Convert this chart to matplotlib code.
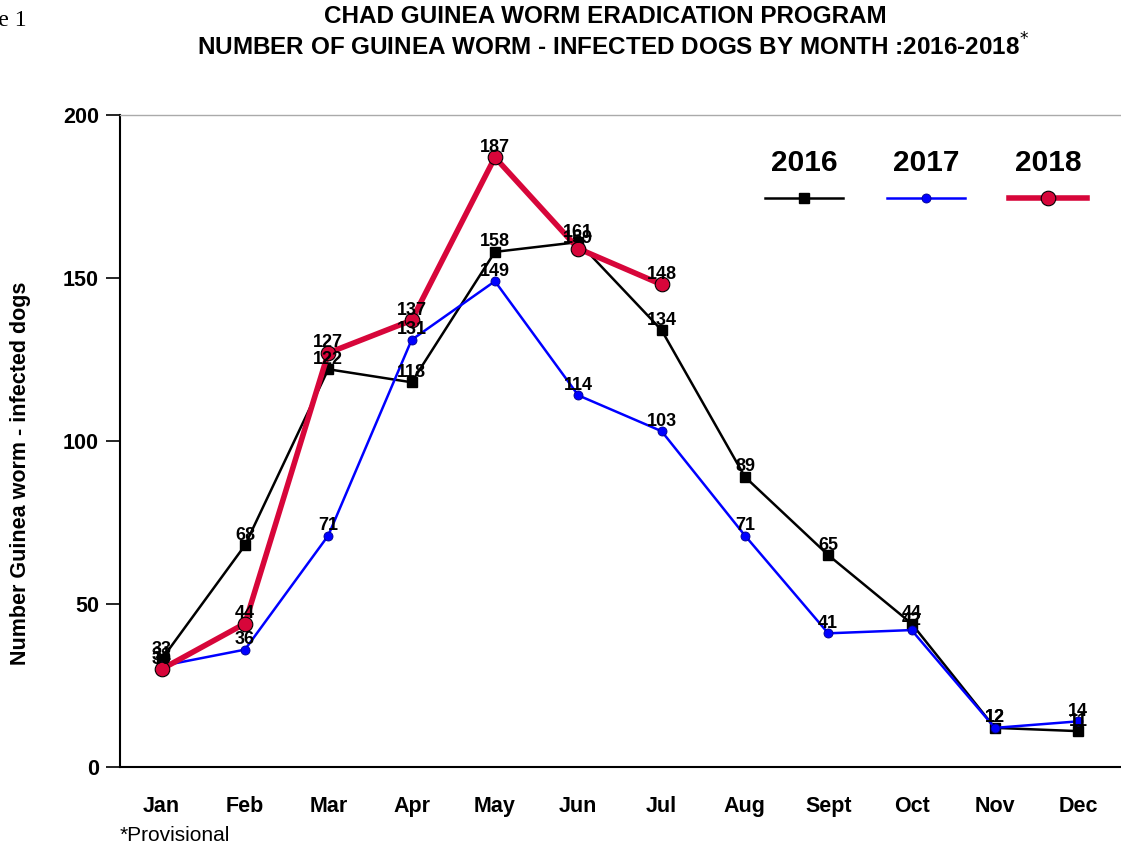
import matplotlib
matplotlib.use("Agg")
import matplotlib.pyplot as plt

months = ["Jan", "Feb", "Mar", "Apr", "May", "Jun", "Jul", "Aug", "Sept", "Oct", "Nov", "Dec"]
dogs_2016 = [33, 68, 122, 118, 158, 161, 134, 89, 65, 44, 12, 11]
dogs_2017 = [31, 36, 71, 131, 149, 114, 103, 71, 41, 42, 12, 14]
dogs_2018 = [30, 44, 127, 137, 187, 159, 148]
years = ["2016", "2017", "2018"]

plt.rcParams['font.family'] = ['Liberation Sans', 'DejaVu Sans']

fig = plt.figure(figsize=(11.21, 8.49), dpi=100)
ax = fig.add_axes([0.107, 0.0966, 0.892, 0.768])

# line / marker styles per year
line_st = {
    "2016": dict(color='black', lw=1.8),
    "2017": dict(color='#0000FF', lw=1.8),
    "2018": dict(color='#D7063A', lw=4),
}
mark_st = {
    "2016": dict(marker='s', ms=6.5, mfc='black', mec='black'),
    "2017": dict(marker='o', ms=6.5, mfc='#0000FF', mec='#00008B', mew=0.6),
    "2018": dict(marker='o', ms=10.5, mfc='#D7063A', mec='black', mew=0.8),
}
zorders = {"2016": 3, "2017": 4, "2018": 5}
series = {"2016": dogs_2016, "2017": dogs_2017, "2018": dogs_2018}

for yr in years:
    vals = series[yr]
    x = list(range(len(vals)))
    ax.plot(x, vals, zorder=zorders[yr], **line_st[yr], **mark_st[yr])
    for xi, v in zip(x, vals):
        ax.annotate(str(v), (xi, v), xytext=(0, 4), textcoords='offset points',
                    ha='center', va='baseline', fontsize=13, fontweight='bold', zorder=6)

ax.set_xlim(-0.5, len(months) - 0.5)
ax.set_ylim(0, 200)
ax.set_yticks([0, 50, 100, 150, 200])
ax.set_xticks(range(len(months)))
ax.set_xticklabels(months)
for lab in ax.get_xticklabels() + ax.get_yticklabels():
    lab.set_fontweight('bold')
    lab.set_fontsize(15.5)
ax.tick_params(axis='x', length=0, pad=21)
ax.tick_params(axis='y', direction='out', length=10, width=1.2, pad=5)

ax.spines['right'].set_visible(False)
ax.spines['top'].set_color('#AAAAAA')
ax.spines['top'].set_linewidth(1)
ax.spines['left'].set_linewidth(1.5)
ax.spines['bottom'].set_linewidth(1.5)

fig.text(0.018, 0.443, "Number Guinea worm - infected dogs", rotation=90, ha='center', va='center',
         fontsize=15.5, fontweight='bold')

# legend: year labels above line samples
leg_x = [0.684, 0.806, 0.928]
for yr, cx in zip(years, leg_x):
    ax.text(cx, 0.927, yr, transform=ax.transAxes, ha='center', va='center',
            fontsize=21.5, fontweight='bold')
    ax.plot([cx - 0.039, cx + 0.039], [0.873, 0.873], transform=ax.transAxes,
            clip_on=False, **line_st[yr])
    ax.plot([cx], [0.873], transform=ax.transAxes, clip_on=False, ls='none', **mark_st[yr])

fig.text(0.54, 0.981, "CHAD GUINEA WORM ERADICATION PROGRAM", ha='center', va='center',
         fontsize=17.5, fontweight='bold')
fig.text(0.547, 0.945, "NUMBER OF GUINEA WORM - INFECTED DOGS BY MONTH :2016-2018$^{*}$", ha='center',
         va='center', fontsize=17.5, fontweight='bold')
fig.text(0.024, 0.988, "Figure 1", ha='right', va='top', fontsize=17, family='Liberation Serif')
fig.text(0.107, 0.016, "*Provisional", ha='left', va='center', fontsize=15)

fig.savefig("out.png", dpi=100)
